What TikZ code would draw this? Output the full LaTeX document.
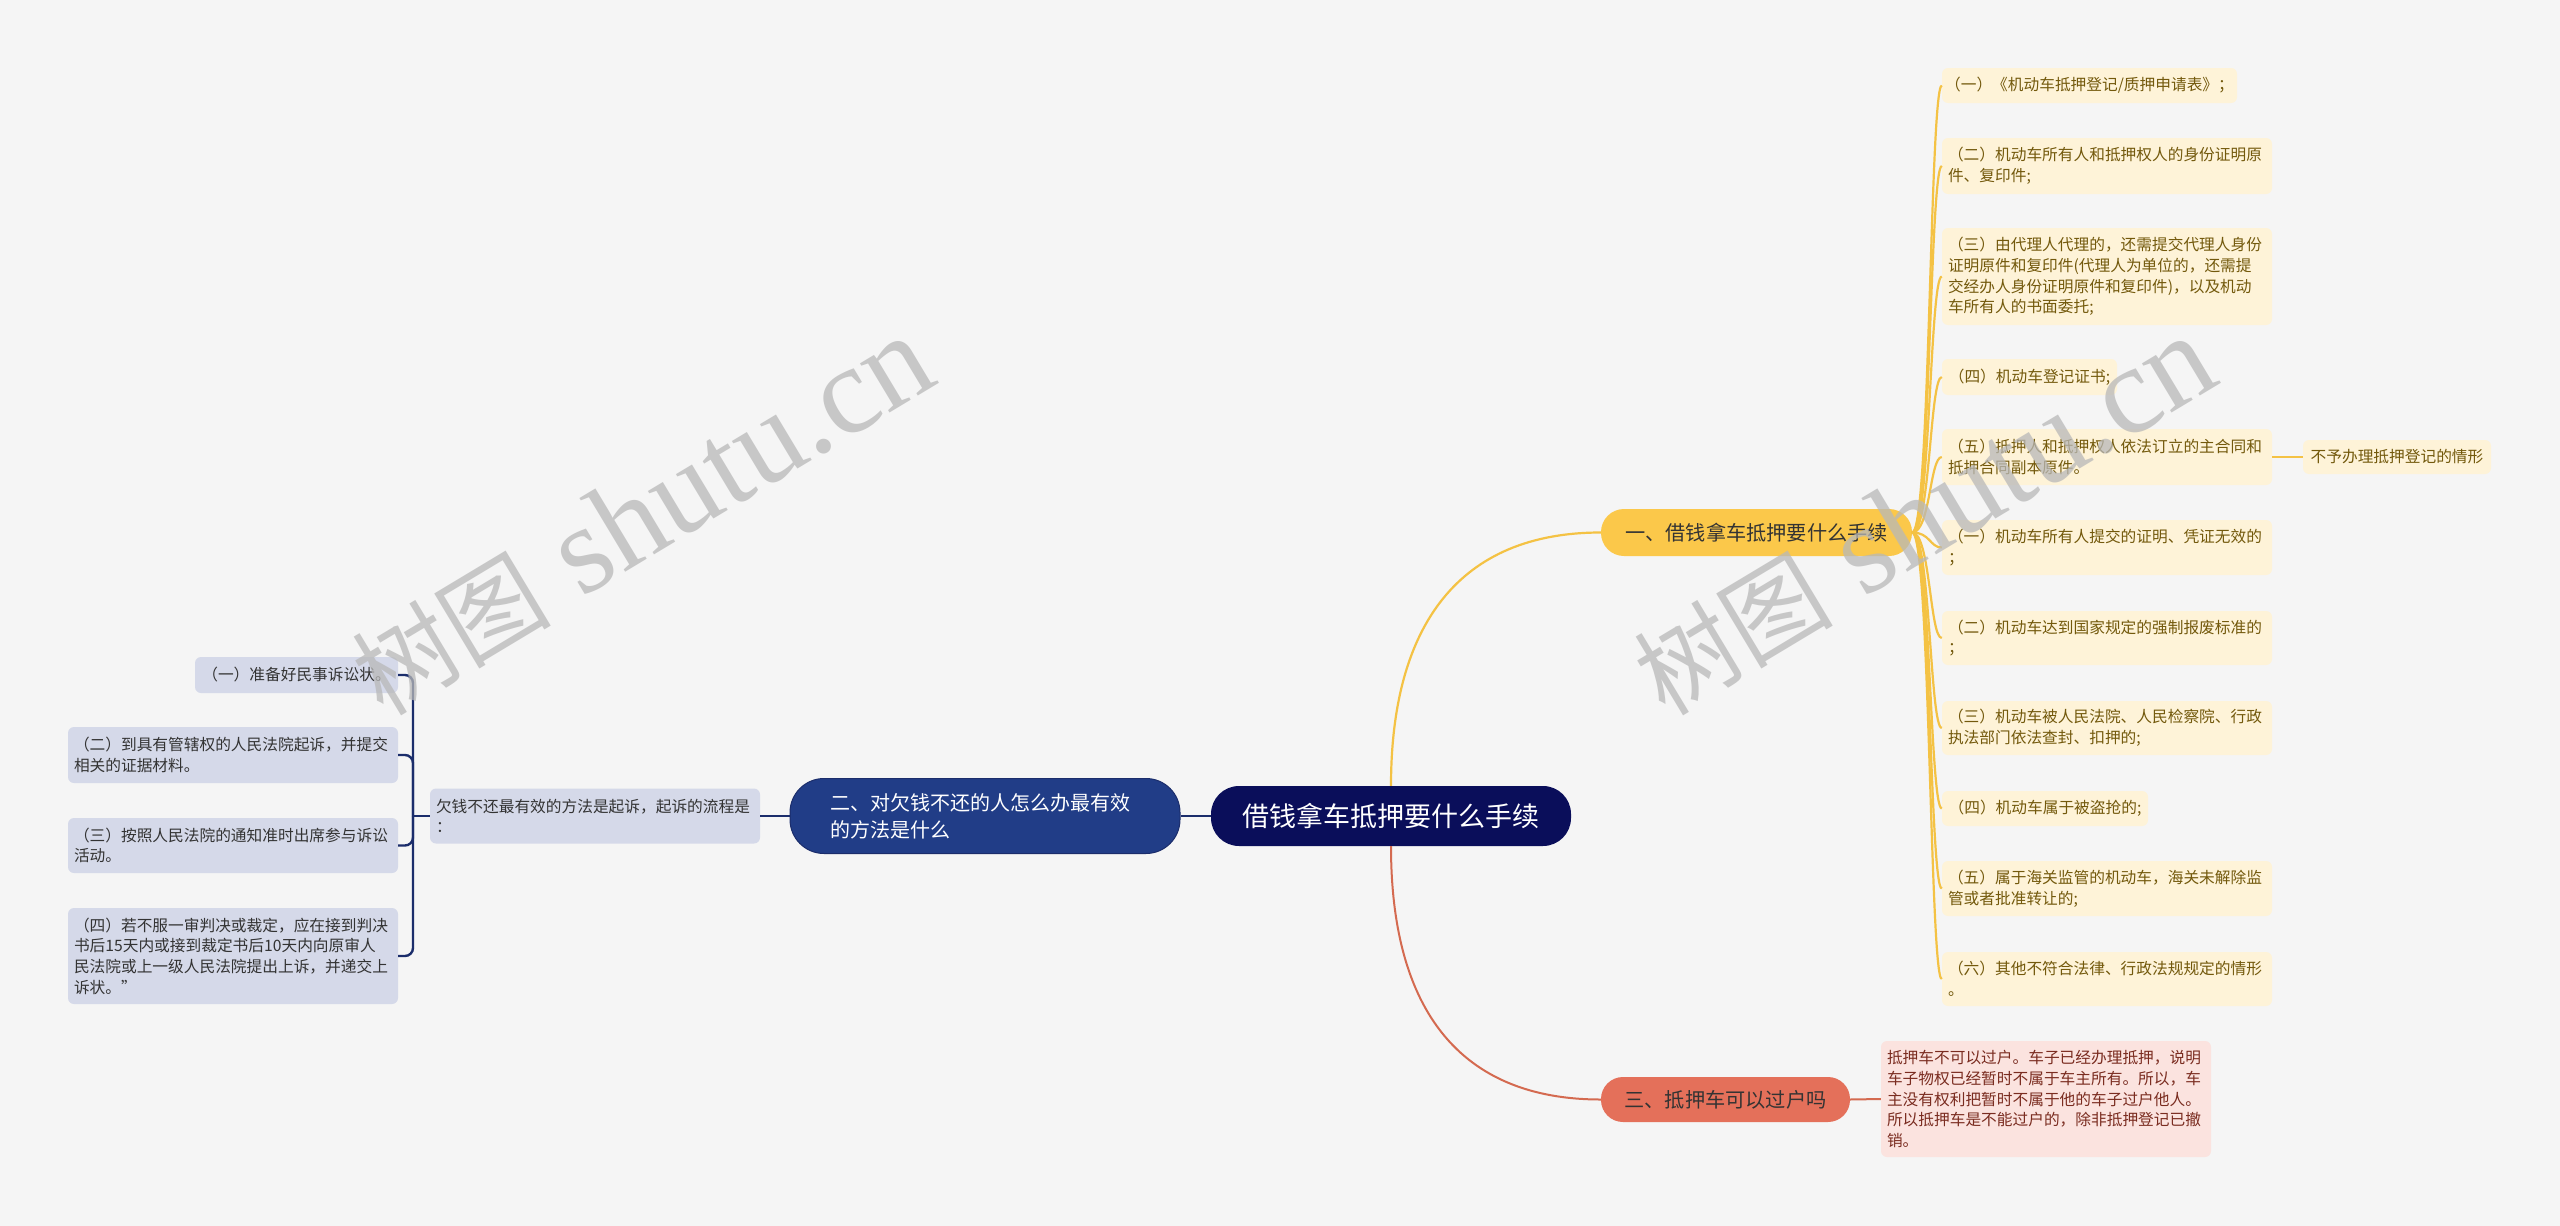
\documentclass[tikz,border=0pt]{standalone}
\usepackage{fontspec}
\newfontfamily\cjk{Noto Sans CJK SC}
\newfontfamily\wmserif{Liberation Serif}
\usetikzlibrary{calc}
\definecolor{bg}{HTML}{F5F5F5}
\definecolor{rootc}{HTML}{0A0E5A}
\definecolor{navyb}{HTML}{213D87}
\definecolor{navyl}{HTML}{1B2D6B}
\definecolor{subfill}{HTML}{D5D9E9}
\definecolor{subtext}{HTML}{333333}
\definecolor{ymain}{HTML}{FBC84A}
\definecolor{yleaf}{HTML}{FEF3D8}
\definecolor{ytext}{HTML}{73590C}
\definecolor{yline}{HTML}{F4C244}
\definecolor{rmain}{HTML}{E4705A}
\definecolor{rleaf}{HTML}{FBE3DF}
\definecolor{rtext}{HTML}{7A2C20}
\definecolor{rline}{HTML}{D46A50}
\definecolor{wmc}{HTML}{B8B8B8}
\tikzset{
  box/.style={rounded corners=6pt, inner sep=0pt, align=left, anchor=center},
  smallfont/.style={font=\cjk\fontsize{15.7pt}{20.7pt}\selectfont},
  rootn/.style={box, fill=rootc, text=white, rounded corners=28pt, minimum width=360pt, minimum height=60pt, font=\cjk\fontsize{27pt}{32pt}\selectfont},
  mainN/.style={box, fill=navyb, draw=navyl, line width=1pt, text=white, rounded corners=34pt, font=\cjk\fontsize{20pt}{26.7pt}\selectfont},
  mainY/.style={box, fill=ymain, text=subtext, rounded corners=23pt, font=\cjk\fontsize{20.2pt}{26pt}\selectfont},
  mainR/.style={box, fill=rmain, text=subtext, rounded corners=22pt, font=\cjk\fontsize{20.2pt}{26pt}\selectfont},
  leafN/.style={box, smallfont, fill=subfill, text=subtext},
  leafY/.style={box, smallfont, fill=yleaf, text=ytext},
  leafR/.style={box, smallfont, fill=rleaf, text=rtext},
  lineN/.style={draw=navyl, line width=2.4pt},
  lineY/.style={draw=yline, line width=2.2pt},
  lineR/.style={draw=rline, line width=2pt},
  wm/.style={text=wmc, opacity=0.75, inner sep=0pt}
}
\begin{document}
\begin{tikzpicture}[x=1pt,y=-1pt]
\fill[bg] (0,0) rectangle (2560,1226);
\useasboundingbox (0,0) rectangle (2560,1226);

% central and main branches
\node[rootn] (root) at (1391,816) {借钱拿车抵押要什么手续};
\node[mainN, minimum width=390pt, minimum height=75pt, text width=310pt] (b2) at (985,816) {二、对欠钱不还的人怎么办最有效\\的方法是什么};
\node[mainY, minimum width=311pt, minimum height=47pt] (b1) at (1756.5,532.5) {一、借钱拿车抵押要什么手续};
\node[mainR, minimum width=249pt, minimum height=45pt] (b3) at (1725.5,1099.5) {三、抵押车可以过户吗};

% left side
\node[leafN, minimum width=330pt, minimum height=55pt, text width=318pt] (b2s) at (595,816) {欠钱不还最有效的方法是起诉，起诉的流程是\\：};
\node[leafN, minimum width=203pt, minimum height=36pt] (l1) at (296.5,675) {（一）准备好民事诉讼状。};
\node[leafN, minimum width=330pt, minimum height=56pt, text width=318pt] (l2) at (233,755) {（二）到具有管辖权的人民法院起诉，并提交\\相关的证据材料。};
\node[leafN, minimum width=330pt, minimum height=55pt, text width=318pt] (l3) at (233,845.5) {（三）按照人民法院的通知准时出席参与诉讼\\活动。};
\node[leafN, minimum width=330pt, minimum height=96pt, text width=318pt] (l4) at (233,956) {（四）若不服一审判决或裁定，应在接到判决\\书后15天内或接到裁定书后10天内向原审人\\民法院或上一级人民法院提出上诉，并递交上\\诉状。”};

% right yellow leaves
\node[leafY, minimum width=295pt, minimum height=35pt] (y1) at (2089.5,85.5) {（一）《机动车抵押登记/质押申请表》；};
\node[leafY, minimum width=330pt, minimum height=56pt, text width=318pt] (y2) at (2107,166) {（二）机动车所有人和抵押权人的身份证明原\\件、复印件;};
\node[leafY, minimum width=330pt, minimum height=97pt, text width=318pt] (y3) at (2107,276.5) {（三）由代理人代理的，还需提交代理人身份\\证明原件和复印件(代理人为单位的，还需提\\交经办人身份证明原件和复印件)，以及机动\\车所有人的书面委托;};
\node[leafY, minimum width=175pt, minimum height=36pt] (y4) at (2029.5,377) {（四）机动车登记证书;};
\node[leafY, minimum width=330pt, minimum height=56pt, text width=318pt] (y5) at (2107,457) {（五）抵押人和抵押权人依法订立的主合同和\\抵押合同副本原件。};
\node[leafY, minimum width=188pt, minimum height=34pt] (c5) at (2397,457) {不予办理抵押登记的情形};
\node[leafY, minimum width=330pt, minimum height=55pt, text width=318pt] (y6) at (2107,547.5) {（一）机动车所有人提交的证明、凭证无效的\\；};
\node[leafY, minimum width=330pt, minimum height=54pt, text width=318pt] (y7) at (2107,638) {（二）机动车达到国家规定的强制报废标准的\\；};
\node[leafY, minimum width=330pt, minimum height=54pt, text width=318pt] (y8) at (2107,728) {（三）机动车被人民法院、人民检察院、行政\\执法部门依法查封、扣押的;};
\node[leafY, minimum width=206pt, minimum height=35pt] (y9) at (2045,808.5) {（四）机动车属于被盗抢的;};
\node[leafY, minimum width=330pt, minimum height=55pt, text width=318pt] (y10) at (2107,888.5) {（五）属于海关监管的机动车，海关未解除监\\管或者批准转让的;};
\node[leafY, minimum width=330pt, minimum height=54pt, text width=318pt] (y11) at (2107,979) {（六）其他不符合法律、行政法规规定的情形\\。};

% right red leaf
\node[leafR, minimum width=330pt, minimum height=116pt, text width=318pt] (p1) at (2046,1099) {抵押车不可以过户。车子已经办理抵押，说明\\车子物权已经暂时不属于车主所有。所以，车\\主没有权利把暂时不属于他的车子过户他人。\\所以抵押车是不能过户的，除非抵押登记已撤\\销。};

% connectors
\draw[lineN] (root.west) -- (b2.east);
\draw[lineN] (b2.west) -- (b2s.east);
\coordinate (j) at (413,816);
\draw[lineN] (b2s.west) -- (j);
\foreach \n in {l1,l2,l3,l4} \draw[lineN, rounded corners=8pt] (j) |- (\n.east);

\draw[lineY] (root.north) .. controls (1391,624) and (1460,532.5) .. (b1.west);
\draw[lineR] (root.south) .. controls (1391,1010) and (1460,1099.5) .. (b3.west);

\foreach \n in {y1,y2,y3,y4,y5,y6,y7,y8,y9,y10,y11}
  \draw[lineY] (b1.east) .. controls ($(b1.east)+(18,0)$) and ($(\n.west)+(-12,0)$) .. (\n.west);
\draw[lineY] (y5.east) -- (c5.west);
\draw[lineR] (b3.east) -- (p1.west);

% watermarks
\node[wm, rotate=31, anchor=base west] (wm1) at (383,718) {{\cjk\fontsize{100pt}{110pt}\selectfont 树图}{\wmserif\fontsize{125pt}{135pt}\selectfont{} shutu.cn}};
\node[wm, rotate=31, anchor=base west] (wm2) at (1665,718) {{\cjk\fontsize{100pt}{110pt}\selectfont 树图}{\wmserif\fontsize{125pt}{135pt}\selectfont{} shutu.cn}};
\end{tikzpicture}
\end{document}
